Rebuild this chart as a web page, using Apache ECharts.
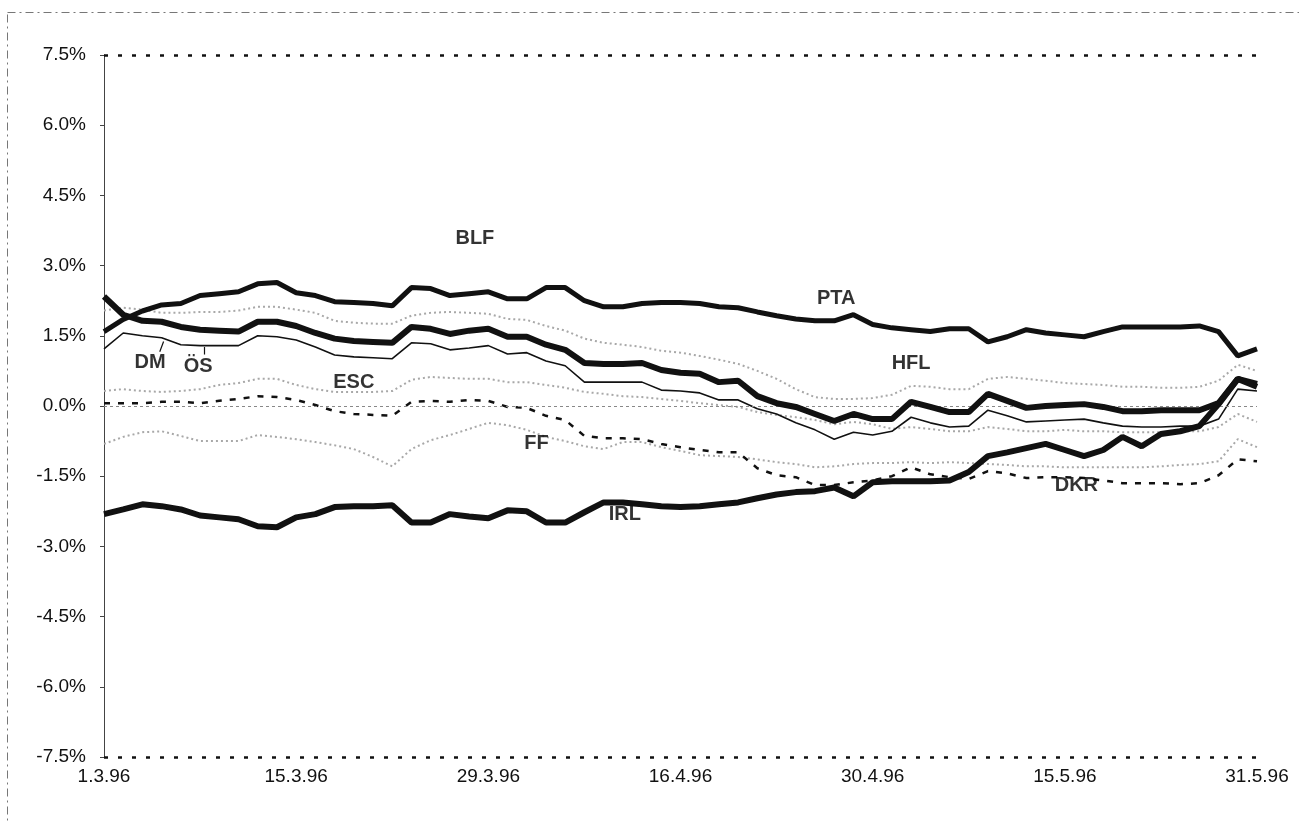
<!DOCTYPE html>
<html>
<head>
<meta charset="utf-8">
<title>EWS 1996</title>
<script src="https://cdn.jsdelivr.net/npm/echarts@6/dist/echarts.min.js"></script>
<style>
  html, body { margin: 0; padding: 0; background: #fff; }
  #chart { width: 1299px; height: 821px; }
</style>
</head>
<body>
<div id="chart"></div>
<script>
// business days 1.3.96 - 31.5.96
const dates = [
  "1.3.96", "4.3.96", "5.3.96", "6.3.96", "7.3.96", "8.3.96", "11.3.96", "12.3.96", "13.3.96", "14.3.96",
  "15.3.96", "18.3.96", "19.3.96", "20.3.96", "21.3.96", "22.3.96", "25.3.96", "26.3.96", "27.3.96", "28.3.96",
  "29.3.96", "1.4.96", "2.4.96", "3.4.96", "4.4.96", "9.4.96", "10.4.96", "11.4.96", "12.4.96", "15.4.96",
  "16.4.96", "17.4.96", "18.4.96", "19.4.96", "22.4.96", "23.4.96", "24.4.96", "25.4.96", "26.4.96", "29.4.96",
  "30.4.96", "2.5.96", "3.5.96", "6.5.96", "7.5.96", "8.5.96", "9.5.96", "10.5.96", "13.5.96", "14.5.96",
  "15.5.96", "17.5.96", "20.5.96", "21.5.96", "22.5.96", "23.5.96", "24.5.96", "28.5.96", "29.5.96", "30.5.96",
  "31.5.96"
];
const tickLabels = ["1.3.96", "15.3.96", "29.3.96", "16.4.96", "30.4.96", "15.5.96", "31.5.96"];

// deviations in %
const pta = [1.59,1.85,2.03,2.16,2.19,2.36,2.40,2.44,2.61,2.64,
  2.42,2.36,2.23,2.21,2.19,2.14,2.53,2.51,2.36,2.40,
  2.44,2.29,2.29,2.53,2.53,2.25,2.12,2.12,2.19,2.21,
  2.21,2.19,2.12,2.10,2.01,1.93,1.86,1.82,1.82,1.95,
  1.74,1.67,1.63,1.59,1.65,1.65,1.37,1.48,1.63,1.56,
  1.52,1.48,1.59,1.69,1.69,1.69,1.69,1.71,1.59,1.07,1.22];
const hfl = [2.34,1.95,1.82,1.80,1.69,1.63,1.61,1.59,1.80,1.80,
  1.71,1.56,1.44,1.39,1.37,1.35,1.69,1.65,1.54,1.61,
  1.65,1.48,1.48,1.31,1.20,0.92,0.90,0.90,0.92,0.77,
  0.71,0.69,0.51,0.54,0.21,0.06,-0.02,-0.17,-0.32,-0.17,
  -0.28,-0.28,0.09,-0.02,-0.13,-0.13,0.26,0.11,-0.04,0.00,
  0.02,0.04,-0.02,-0.11,-0.11,-0.09,-0.09,-0.09,0.06,0.58,0.47];
const dm = [1.22,1.56,1.50,1.46,1.31,1.29,1.29,1.29,1.50,1.48,
  1.41,1.26,1.09,1.05,1.03,1.01,1.35,1.33,1.20,1.24,
  1.29,1.11,1.14,0.96,0.86,0.51,0.51,0.51,0.51,0.34,
  0.32,0.28,0.13,0.13,-0.06,-0.17,-0.36,-0.51,-0.71,-0.56,
  -0.62,-0.54,-0.24,-0.36,-0.45,-0.43,-0.09,-0.21,-0.34,-0.32,
  -0.30,-0.28,-0.36,-0.43,-0.45,-0.45,-0.43,-0.43,-0.28,0.36,0.32];
const irl = [-2.31,-2.21,-2.10,-2.14,-2.21,-2.34,-2.38,-2.42,-2.57,-2.59,
  -2.38,-2.31,-2.16,-2.14,-2.14,-2.12,-2.49,-2.49,-2.31,-2.36,
  -2.40,-2.23,-2.25,-2.49,-2.49,-2.27,-2.06,-2.06,-2.10,-2.14,
  -2.16,-2.14,-2.10,-2.06,-1.97,-1.89,-1.84,-1.82,-1.74,-1.93,
  -1.63,-1.61,-1.61,-1.61,-1.59,-1.41,-1.07,-0.99,-0.90,-0.81,
  -0.94,-1.07,-0.94,-0.66,-0.86,-0.60,-0.54,-0.43,0.04,0.58,0.41];
const dkr = [0.06,0.06,0.06,0.09,0.09,0.06,0.11,0.15,0.21,0.19,
  0.13,0.02,-0.11,-0.17,-0.19,-0.21,0.09,0.11,0.09,0.13,
  0.11,-0.02,-0.04,-0.21,-0.30,-0.64,-0.69,-0.69,-0.71,-0.81,
  -0.88,-0.94,-0.99,-0.99,-1.33,-1.48,-1.52,-1.69,-1.69,-1.63,
  -1.59,-1.50,-1.31,-1.46,-1.52,-1.56,-1.39,-1.44,-1.54,-1.52,
  -1.52,-1.54,-1.59,-1.65,-1.65,-1.65,-1.67,-1.65,-1.48,-1.14,-1.18];
const blf = [2.04,2.10,2.06,1.99,1.99,2.01,2.01,2.04,2.12,2.12,
  2.06,1.99,1.82,1.78,1.76,1.76,1.93,1.99,2.01,1.99,
  1.97,1.86,1.84,1.71,1.61,1.44,1.35,1.31,1.26,1.18,
  1.14,1.07,0.99,0.90,0.75,0.58,0.36,0.19,0.15,0.15,
  0.17,0.24,0.43,0.41,0.36,0.36,0.58,0.62,0.58,0.54,
  0.49,0.47,0.45,0.41,0.41,0.39,0.39,0.41,0.54,0.88,0.75];
const esc = [0.32,0.36,0.32,0.30,0.32,0.36,0.45,0.49,0.58,0.58,
  0.45,0.36,0.30,0.30,0.30,0.32,0.56,0.62,0.60,0.58,
  0.58,0.51,0.51,0.45,0.39,0.30,0.26,0.21,0.19,0.15,
  0.11,0.06,0.02,-0.02,-0.13,-0.19,-0.24,-0.30,-0.39,-0.34,
  -0.39,-0.49,-0.45,-0.49,-0.54,-0.54,-0.45,-0.49,-0.54,-0.54,
  -0.51,-0.54,-0.54,-0.56,-0.56,-0.56,-0.54,-0.54,-0.45,-0.17,-0.34];
const ff = [-0.81,-0.66,-0.56,-0.54,-0.64,-0.75,-0.75,-0.75,-0.62,-0.66,
  -0.71,-0.77,-0.84,-0.92,-1.09,-1.29,-0.92,-0.73,-0.62,-0.49,
  -0.36,-0.41,-0.51,-0.66,-0.75,-0.86,-0.92,-0.77,-0.77,-0.88,
  -0.96,-1.05,-1.07,-1.09,-1.14,-1.20,-1.24,-1.31,-1.29,-1.24,
  -1.22,-1.22,-1.20,-1.22,-1.20,-1.22,-1.24,-1.26,-1.29,-1.29,
  -1.31,-1.31,-1.31,-1.31,-1.31,-1.29,-1.26,-1.24,-1.18,-0.71,-0.88];

// text labels placed in the plot (x = day index, y = %)
const noteNames = ["BLF", "PTA", "DM", "ÖS", "ESC", "HFL", "FF", "IRL", "DKR"];
const noteX = [19.3, 38.1, 2.4, 4.9, 13.0, 42.0, 22.5, 27.1, 50.6];
const noteY = [3.58, 2.29, 0.92, 0.85, 0.51, 0.90, -0.81, -2.31, -1.70];

const chart = echarts.init(document.getElementById("chart"));

function grayLine(name, data) {
  return {
    name: name, type: "line", data: data, symbol: "none", silent: true, z: 2,
    lineStyle: { color: "#a8a8a8", width: 2, type: [2, 3] }
  };
}

const option = {
  animation: false,
  backgroundColor: "#fff",
  textStyle: { fontFamily: "Liberation Sans, Arial, sans-serif" },
  grid: { left: 104, right: 42, top: 55, bottom: 64 },
  graphic: [{
    type: "rect", left: 5, top: 10, silent: true,
    shape: { width: 1400, height: 900 },
    style: { fill: "none", stroke: "#777", lineWidth: 1, lineDash: [8, 4, 2, 4] }
  }],
  xAxis: [{
    type: "category", data: dates, boundaryGap: false,
    axisLine: { show: false }, axisTick: { show: false },
    axisLabel: {
      interval: function (i, v) { return tickLabels.indexOf(v) >= 0; },
      color: "#111", fontSize: 19, margin: 10
    },
    splitLine: { show: false }
  }, {
    type: "value", min: 0, max: 60, show: false
  }],
  yAxis: {
    type: "value", min: -7.5, max: 7.5, interval: 1.5,
    axisLine: { show: true, lineStyle: { color: "#444", width: 1 } },
    axisTick: { show: true, length: 4, lineStyle: { color: "#444" } },
    axisLabel: {
      color: "#111", fontSize: 19, margin: 18,
      formatter: function (v) { return v.toFixed(1) + "%"; }
    },
    splitLine: { show: false }
  },
  series: [
    grayLine("BLF", blf),
    grayLine("ESC", esc),
    grayLine("FF", ff),
    {
      name: "DKR", type: "line", data: dkr, symbol: "none", silent: true, z: 3,
      lineStyle: { color: "#111", width: 2.5, type: [6, 8] }
    },
    {
      name: "DM", type: "line", data: dm, symbol: "none", silent: true, z: 4,
      lineStyle: { color: "#111", width: 1.6 }
    },
    {
      name: "HFL", type: "line", data: hfl, symbol: "none", silent: true, z: 5,
      lineStyle: { color: "#111", width: 6 }
    },
    {
      name: "IRL", type: "line", data: irl, symbol: "none", silent: true, z: 5,
      lineStyle: { color: "#111", width: 6 }
    },
    {
      name: "PTA", type: "line", data: pta, symbol: "none", silent: true, z: 5,
      lineStyle: { color: "#111", width: 5 },
      markLine: {
        silent: true, symbol: "none", label: { show: false },
        data: [
          { yAxis: 7.5, lineStyle: { color: "#111", width: 2.5, type: [4, 10] } },
          { yAxis: -7.5, lineStyle: { color: "#111", width: 2.5, type: [4, 10] } },
          { yAxis: 0, lineStyle: { color: "#888", width: 1, type: [3, 3] } }
        ]
      }
    },
    {
      name: "labels", type: "scatter", xAxisIndex: 1, symbolSize: 0, silent: true, z: 10,
      itemStyle: { color: "#000" },
      data: noteNames.map(function (n, i) { return { name: n, value: [noteX[i], noteY[i]] }; }),
      label: {
        show: true, position: "inside", formatter: "{b}",
        color: "#000", fontSize: 20, fontWeight: "bold",
        textBorderWidth: 0, textBorderColor: "transparent"
      },
      // leader strokes from DM and ÖS up to their line
      markLine: {
        silent: true, symbol: "none", label: { show: false },
        lineStyle: { color: "#111", width: 1.2, type: "solid" },
        data: [
          [{ coord: [2.9, 1.16] }, { coord: [3.1, 1.38] }],
          [{ coord: [5.2, 1.10] }, { coord: [5.2, 1.26] }]
        ]
      }
    }
  ]
};

chart.setOption(option);
</script>
</body>
</html>
